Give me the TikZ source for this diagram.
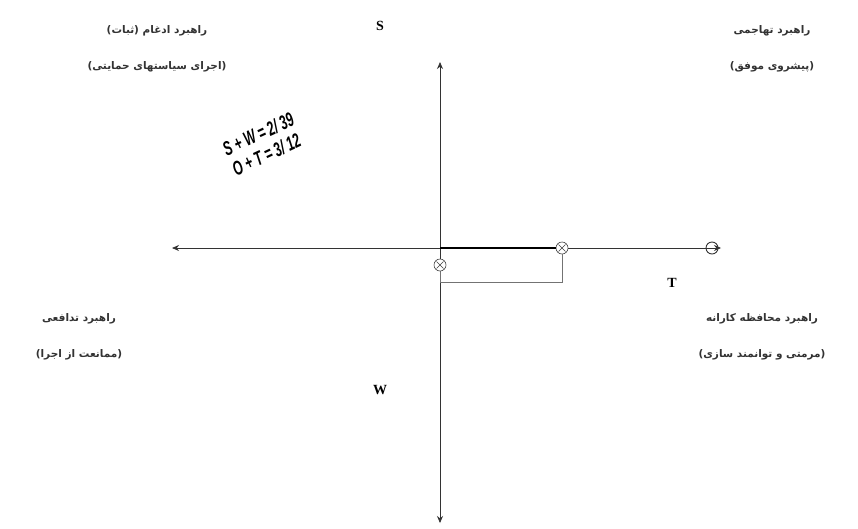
\documentclass[tikz,border=0pt]{standalone}
\usepackage{fontspec}
\setmainfont{Liberation Serif}
\newfontfamily\pfont[Script=Arabic]{DejaVu Sans}
\newfontfamily\eqfont{Liberation Sans}
\TeXXeTstate=1
\usetikzlibrary{arrows.meta}
\begin{document}
\begin{tikzpicture}[x=1pt,y=-1pt,
  axis/.style={line width=0.8pt, draw=black!80},
  tip/.style={-{Stealth[length=7pt,width=6pt]}},
  xmarker/.style={circle, draw=black!75, line width=0.6pt, fill=white, minimum size=12pt, inner sep=0pt,
    path picture={\draw[black!75, line width=0.5pt]
      ([xshift=2.5pt,yshift=-2.5pt]path picture bounding box.north west) -- ([xshift=-2.5pt,yshift=2.5pt]path picture bounding box.south east)
      ([xshift=-2.5pt,yshift=-2.5pt]path picture bounding box.north east) -- ([xshift=2.5pt,yshift=2.5pt]path picture bounding box.south west);}},
  endring/.style={circle, draw=black!80, line width=0.9pt, minimum size=12pt, inner sep=0pt},
  bracket/.style={draw=black!55, line width=0.8pt},
  letter/.style={font=\bfseries\fontsize{14}{16}\selectfont, inner sep=0pt},
  ptext/.style={font=\pfont\bfseries\fontsize{10.5}{36}\selectfont, align=center, inner sep=0pt, text=black!80},
  eq/.style={font=\eqfont\bfseries\itshape\fontsize{20}{22}\selectfont, align=left, inner sep=0pt, rotate=25, xscale=0.62}
]
\useasboundingbox[fill=white] (0,0) rectangle (858,528);

% axis end points
\coordinate (O) at (440,248);
\coordinate (Ltip) at (172,248);
\coordinate (Rtip) at (721,248);
\coordinate (Top) at (440,62);
\coordinate (Bot) at (440,523);
\coordinate (c1) at (440,282);
\coordinate (c2) at (562,282);

% axes
\draw[axis,tip] (O) -- (Ltip);
\draw[axis,tip] (O) -- (Rtip);
\draw[axis,tip] (O) -- (Top);
\draw[axis,tip] (O) -- (Bot);
\node[endring] (ring) at (712,248) {};

% markers
\node[xmarker] (m2) at (562,248) {};
\draw[line width=1.4pt] (O) -- (m2);
\draw[bracket] (440,270) -- (c1) -- (c2) -- (m2.south);
\node[xmarker] (m1) at (440,265) {};

% axis letters
\node[letter] (S) at (380,26) {S};
\node[letter] (W) at (380,390) {W};
\node[letter] (T) at (672,283) {T};

% equations
\node[eq] (eqs) at (263,144) {S + W = 2/ 39\\O + T = 3/ 12};

% quadrant texts
\node[ptext] (tl) at (157,49) {\beginR راهبرد ادغام (ثبات)\endR\\\beginR (اجرای سیاستهای حمایتی)\endR};
\node[ptext] (tr) at (772,49) {\beginR راهبرد تهاجمی\endR\\\beginR (پیشروی موفق)\endR};
\node[ptext] (bl) at (79,337) {\beginR راهبرد تدافعی\endR\\\beginR (ممانعت از اجرا)\endR};
\node[ptext] (br) at (762,337) {\beginR راهبرد محافظه کارانه\endR\\\beginR (مرمتی و توانمند سازی)\endR};
\end{tikzpicture}
\end{document}
